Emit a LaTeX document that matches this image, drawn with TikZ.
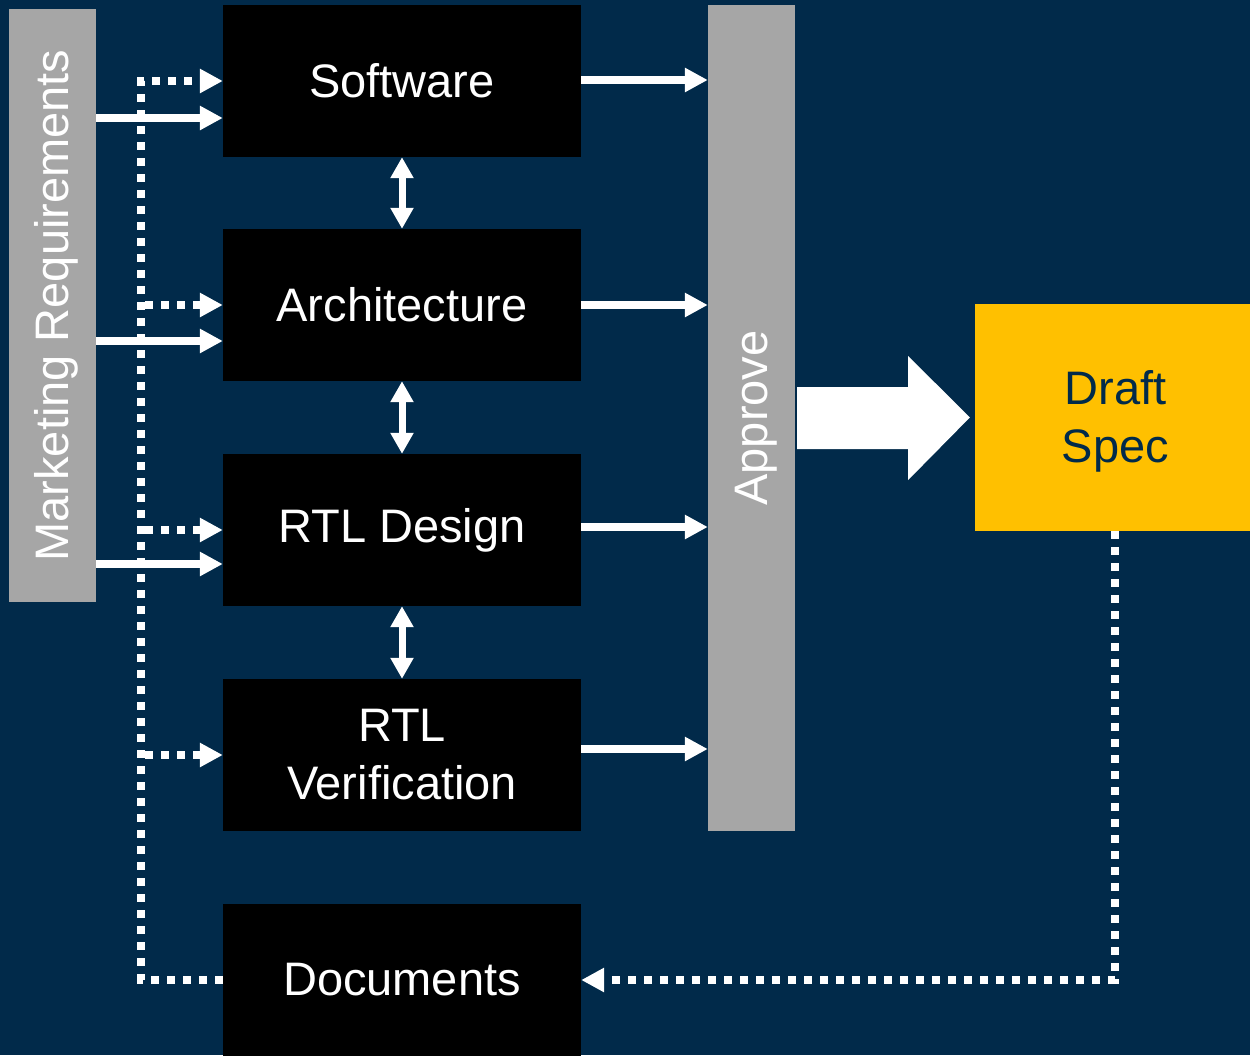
\documentclass[tikz,border=0pt]{standalone}
\usepackage{fontspec}
\setmainfont{Liberation Sans}
\usetikzlibrary{arrows.meta,calc}
\definecolor{bg}{RGB}{1,42,74}
\definecolor{greybar}{RGB}{166,166,166}
\definecolor{gold}{RGB}{255,192,0}
\tikzset{
  bigfont/.style={font=\fontsize{47}{58}\selectfont},
  blk/.style={fill=black, text=white, bigfont, minimum width=358pt, minimum height=152pt, inner sep=0pt, align=center},
  bar/.style={fill=greybar, text=white, bigfont, inner sep=0pt},
  solidarrow/.style={draw=white, line width=7.5pt, -{Triangle[length=23pt,width=23pt]}},
  dblarrow/.style={draw=white, line width=7pt, {Triangle[length=21pt,width=22pt]}-{Triangle[length=21pt,width=22pt]}},
  dotline/.style={draw=white, line width=7.5pt, dash pattern=on 8pt off 8pt, line cap=butt},
  dotarrow/.style={dotline, -{Triangle[length=23pt,width=23pt]}},
}
\begin{document}
\begin{tikzpicture}[x=1pt,y=-1pt]
\fill[bg] (0,0) rectangle (1250,1055);
\useasboundingbox (0,0) rectangle (1250,1055);

% grey bars
\node[bar, minimum width=87pt, minimum height=593pt] (mk) at (52.5,305.5) {};
\node[rotate=90, bigfont, text=white, inner sep=0pt] (mkt) at ($(mk.center)+(4,0)$) {Marketing Requirements};
\node[bar, minimum width=87pt, minimum height=826pt] (ap) at (751.5,418) {};
\node[rotate=90, bigfont, text=white, inner sep=0pt] (apt) at (756,418) {Approve};

% black boxes
\node[blk] (sw) at (402,81) {Software};
\node[blk] (ar) at (402,305) {Architecture};
\node[blk] (rd) at (402,530) {RTL Design};
\node[blk] (rv) at (402,755) {RTL\\Verification};
\node[blk] (doc) at (402,980) {Documents};

% draft spec
\node[fill=gold, minimum width=275pt, minimum height=227pt, inner sep=0pt] (ds) at (1112.5,417.5) {};
\node[text=bg, bigfont, inner sep=0pt, align=center] (dst) at (1115.5,421) {Draft\\Spec};

% solid arrows from marketing
\draw[solidarrow] ($(mk.east |- sw.west)+(0,37)$) -- ($(sw.west)+(0,37)$);
\draw[solidarrow] ($(mk.east |- ar.west)+(0,36)$) -- ($(ar.west)+(0,36)$);
\draw[solidarrow] ($(mk.east |- rd.west)+(0,34)$) -- ($(rd.west)+(0,34)$);

% arrows to approve
\draw[solidarrow] ($(sw.east)+(0,-1)$) -- ($(ap.west |- sw.east)+(0,-1)$);
\draw[solidarrow] (ar.east) -- (ap.west |- ar.east);
\draw[solidarrow] ($(rd.east)+(0,-3)$) -- ($(ap.west |- rd.east)+(0,-3)$);
\draw[solidarrow] ($(rv.east)+(0,-6)$) -- ($(ap.west |- rv.east)+(0,-6)$);

% double arrows between boxes
\draw[dblarrow] (sw.south) -- (ar.north);
\draw[dblarrow] (ar.south) -- (rd.north);
\draw[dblarrow] (rd.south) -- (rv.north);

% big arrow
\fill[white] ($(ap.east)+(2,-31)$) -- ($(ap.east)+(113,-31)$) -- ($(ap.east)+(113,-62)$)
  -- ($(ds.west)+(-5,0)$) -- ($(ap.east)+(113,62)$) -- ($(ap.east)+(113,31)$) -- ($(ap.east)+(2,31)$) -- cycle;

% dotted feedback
\coordinate (trunk) at (141,0);
\draw[dotarrow] (doc.west) -- (trunk |- doc.west) -- (trunk |- sw.west) -- (sw.west);
\draw[dotarrow] ($(trunk |- ar.west)+(4,0)$) -- (ar.west);
\draw[dotarrow] ($(trunk |- rd.west)+(4,0)$) -- (rd.west);
\draw[dotarrow] ($(trunk |- rv.west)+(4,0)$) -- (rv.west);
\draw[dotarrow] ($(ds.south)+(2.5,0)$) -- ($(ds.south |- doc.east)+(2.5,0)$) -- (doc.east);
\end{tikzpicture}
\end{document}
